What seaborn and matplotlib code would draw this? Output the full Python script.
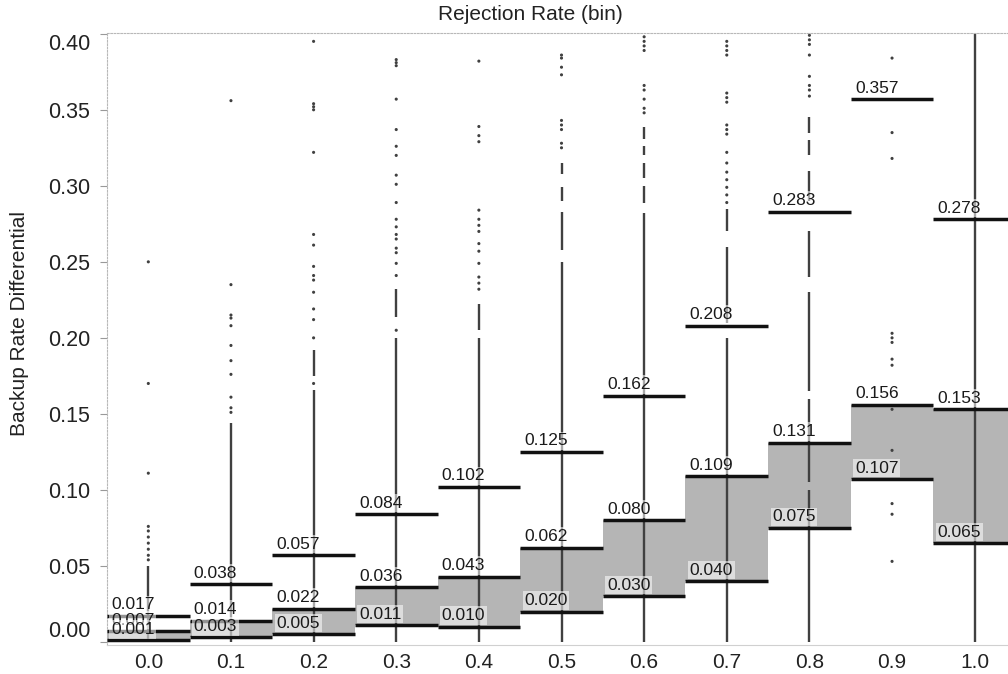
import numpy as np
import pandas as pd
import matplotlib
matplotlib.use("Agg")
import matplotlib.pyplot as plt
import seaborn as sns

# Rejection-rate bins and the summary quantiles of the backup-rate differential
bins = [0.0, 0.1, 0.2, 0.3, 0.4, 0.5, 0.6, 0.7, 0.8, 0.9, 1.0]
bin_labels = ["0.0", "0.1", "0.2", "0.3", "0.4", "0.5", "0.6", "0.7", "0.8", "0.9", "1.0"]
upper_q = [0.017, 0.038, 0.057, 0.084, 0.102, 0.125, 0.162, 0.208, 0.283, 0.357, 0.278]
third_q = [0.007, 0.014, 0.022, 0.036, 0.043, 0.062, 0.080, 0.109, 0.131, 0.156, 0.153]
first_q = [0.001, 0.003, 0.005, 0.011, 0.010, 0.020, 0.030, 0.040, 0.075, 0.107, 0.065]

# Runs of heavily overlapping observations in each bin (low, high)
dense_runs = [
    [(0.0, 0.050)],
    [(0.0, 0.144)],
    [(0.0, 0.166), (0.175, 0.192)],
    [(0.0, 0.200), (0.214, 0.232)],
    [(0.0, 0.200), (0.205, 0.222)],
    [(0.0, 0.250), (0.258, 0.283), (0.290, 0.299), (0.308, 0.315)],
    [(0.0, 0.282), (0.289, 0.300), (0.305, 0.315), (0.320, 0.326), (0.331, 0.339)],
    [(0.0, 0.200), (0.210, 0.260), (0.270, 0.285)],
    [(0.0, 0.100), (0.105, 0.160), (0.165, 0.230), (0.240, 0.270), (0.290, 0.310),
     (0.320, 0.330), (0.335, 0.345)],
    [],
    [(0.0, 0.410)],
]

# Individual observations outside the dense runs
single_obs = [
    [0.250, 0.170, 0.111, 0.076, 0.073, 0.069, 0.065, 0.061, 0.057, 0.054],
    [0.356, 0.235, 0.215, 0.213, 0.208, 0.195, 0.185, 0.176, 0.161, 0.154, 0.151],
    [0.395, 0.354, 0.352, 0.350, 0.322, 0.268, 0.261, 0.247, 0.241, 0.238, 0.230,
     0.219, 0.212, 0.200, 0.170],
    [0.383, 0.381, 0.379, 0.357, 0.337, 0.326, 0.320, 0.307, 0.301, 0.289, 0.278,
     0.273, 0.268, 0.265, 0.259, 0.256, 0.249, 0.241, 0.205],
    [0.382, 0.339, 0.333, 0.329, 0.284, 0.278, 0.274, 0.270, 0.262, 0.257, 0.249,
     0.240, 0.236, 0.232],
    [0.386, 0.384, 0.378, 0.373, 0.343, 0.340, 0.337, 0.328, 0.325],
    [0.398, 0.395, 0.392, 0.389, 0.366, 0.363, 0.357, 0.351, 0.348],
    [0.395, 0.392, 0.389, 0.386, 0.361, 0.358, 0.355, 0.340, 0.337, 0.334, 0.322,
     0.315, 0.309, 0.304, 0.299, 0.294, 0.289],
    [0.399, 0.396, 0.393, 0.386, 0.372, 0.366, 0.363, 0.359],
    [0.384, 0.335, 0.318, 0.203, 0.200, 0.197, 0.186, 0.182, 0.153, 0.126, 0.091,
     0.084, 0.053],
    [],
]

sns.set_theme(style="white")
plt.rcParams["font.family"] = ["Liberation Sans", "DejaVu Sans"]

fig = plt.figure(figsize=(10.08, 6.74), dpi=100)
ax = fig.add_axes([107 / 1008, 29 / 674, 909 / 1008, 612 / 674])

x = np.array(bins)
half = 0.05
dot_color = "#404040"

# Interquartile band
ax.bar(x, np.array(third_q) - np.array(first_q), bottom=first_q, width=2 * half,
       color="#b5b5b5", linewidth=0, zorder=1)

# Observations: dense runs and single points
for xb, runs in zip(bins, dense_runs):
    for lo, hi in runs:
        ax.vlines(xb, lo, hi, color=dot_color, lw=1.7, zorder=2)

obs = pd.DataFrame(
    [(xb, v) for xb, vals in zip(bins, single_obs) for v in vals],
    columns=["bin", "value"],
)
sns.scatterplot(data=obs, x="bin", y="value", s=5, color=dot_color,
                edgecolor="none", ax=ax, zorder=2, legend=False)

# Quantile step lines
for q in (upper_q, third_q, first_q):
    ax.hlines(q, x - half, x + half, color="#111111", lw=2.5, zorder=3)

# Quantile value labels
for q in (upper_q, third_q, first_q):
    for xb, v in zip(bins, q):
        ax.annotate(f"{v:.3f}", xy=(xb - half, v), xytext=(3, 2.6),
                    textcoords="offset points", ha="left", va="bottom",
                    fontsize=12.5, color="#1a1a1a",
                    bbox=dict(boxstyle="square,pad=0.1", fc="white", ec="none", alpha=0.55),
                    zorder=4)

ax.set_xlim(-0.05, 1.05)
ax.set_ylim(-0.002, 0.4005)

# X: labels at bin centres, tick marks at bin boundaries
ax.set_xticks(bins)
ax.set_xticklabels(bin_labels, fontsize=15, color="#222222")
ax.set_xticks(np.append(x - half, x[-1] + half), minor=True)
ax.tick_params(axis="x", which="major", length=0, pad=6)
ax.tick_params(axis="x", which="minor", length=5, width=0.8, color="#999999", direction="out")

yt = [0.00, 0.05, 0.10, 0.15, 0.20, 0.25, 0.30, 0.35, 0.40]
ax.set_yticks(yt)
ax.set_yticklabels([f"{t:.2f}" for t in yt], fontsize=15.5, color="#222222")
ax.tick_params(axis="y", length=5, width=0.8, color="#999999", direction="out", pad=7, left=True)
ylabels = ax.get_yticklabels()
ylabels[0].set_va("bottom")
ylabels[-1].set_va("top")

ax.set_xlabel("")
ax.set_ylabel("")

for side in ("top", "left"):
    ax.spines[side].set_color("#b8b8b8")
    ax.spines[side].set_linestyle((0, (1.5, 1.5)))
    ax.spines[side].set_linewidth(0.8)
ax.spines["bottom"].set_color("#d0d0d0")
ax.spines["bottom"].set_linewidth(0.8)
ax.spines["right"].set_visible(False)

fig.text(530 / 1008, 1 - 15 / 674, "Rejection Rate (bin)", ha="center", va="center",
         fontsize=15, color="#222222")
fig.text(20 / 1008, 1 - 323 / 674, "Backup Rate Differential", ha="center", va="center",
         rotation=90, fontsize=15, color="#222222")

fig.savefig("out.png", dpi=100)
